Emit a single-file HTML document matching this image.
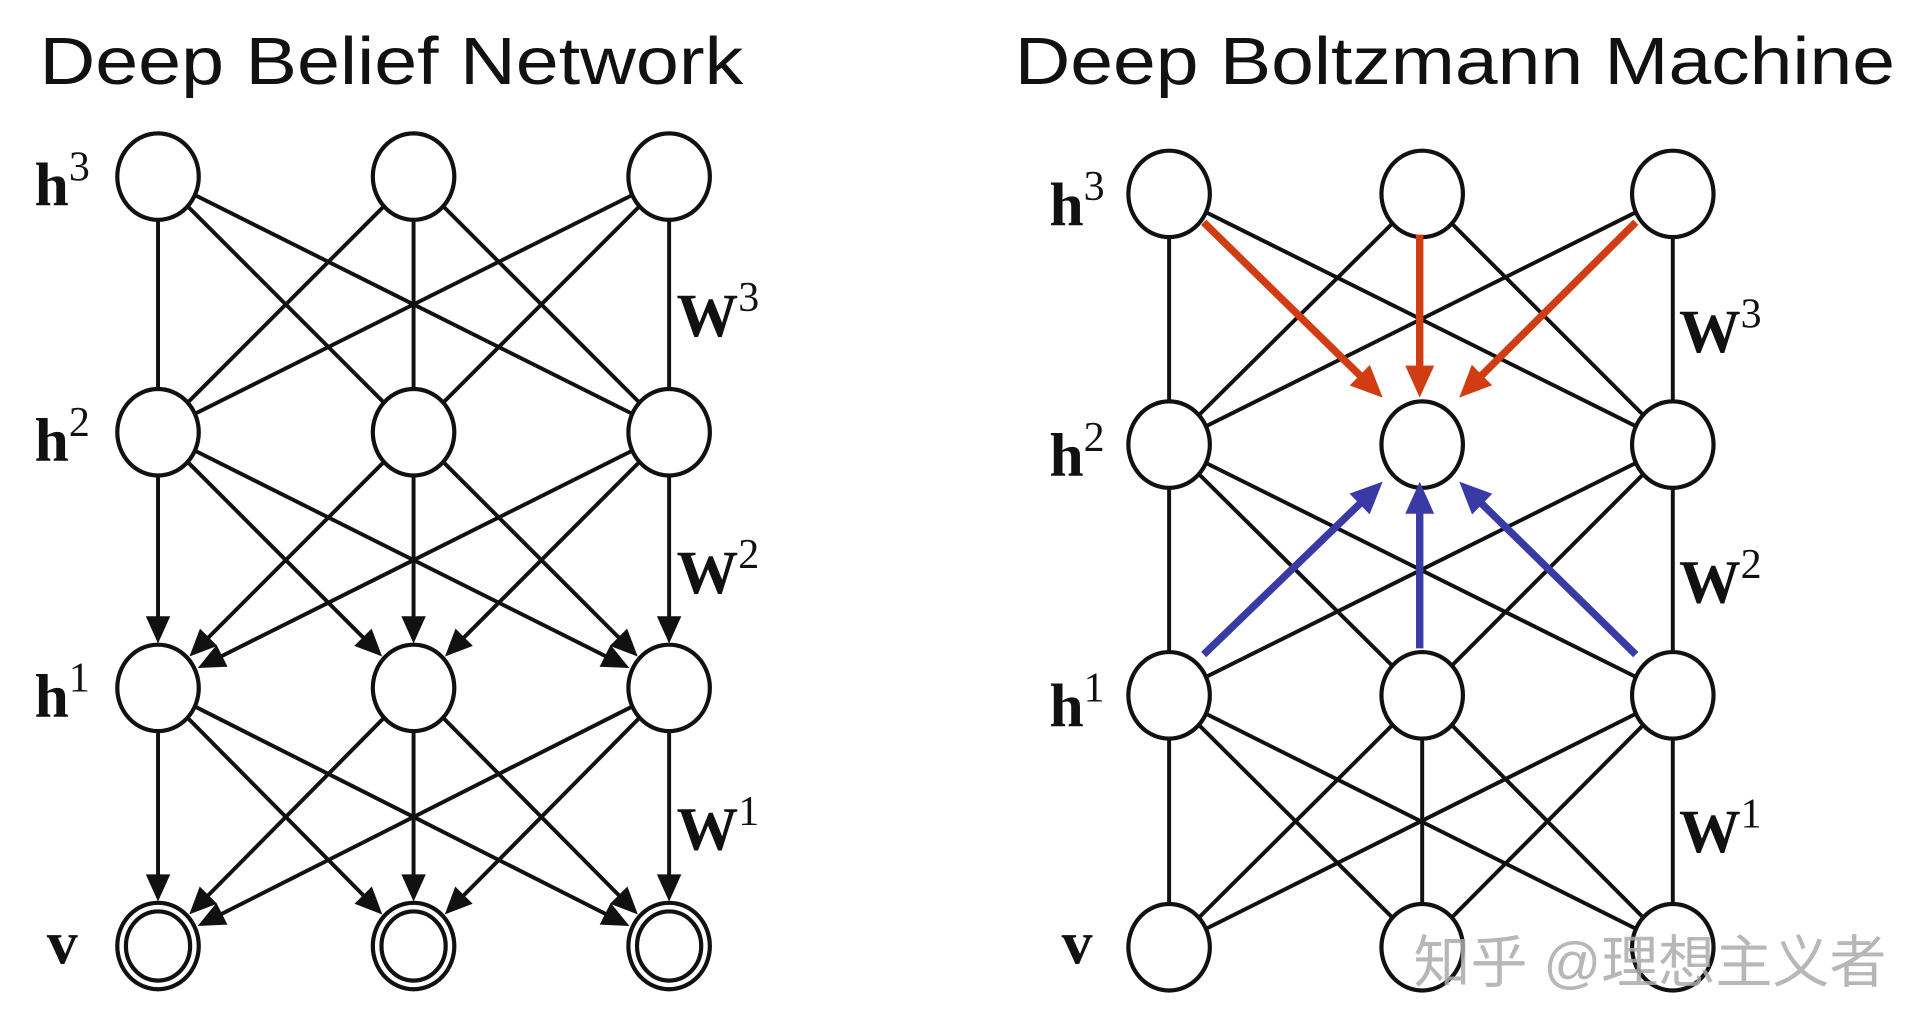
<!DOCTYPE html>
<html><head><meta charset="utf-8"><style>
html,body{margin:0;padding:0;background:#fff;width:1916px;height:1030px;overflow:hidden}
svg{display:block}
text{font-family:"Liberation Serif",serif;fill:#111}
</style></head><body>
<svg id="s" width="1916" height="1030" viewBox="0 0 1552 834" preserveAspectRatio="none" xmlns="http://www.w3.org/2000/svg">
<text x="32" y="68" textLength="570" lengthAdjust="spacingAndGlyphs" style="font-family:'Liberation Sans',sans-serif;font-size:54px">Deep Belief Network</text>
<text x="822" y="68" textLength="713" lengthAdjust="spacingAndGlyphs" style="font-family:'Liberation Sans',sans-serif;font-size:54px">Deep Boltzmann Machine</text>
<g id="g"></g>
<text x="1145" y="795" textLength="383" lengthAdjust="spacingAndGlyphs" style="font-family:'Liberation Sans','Noto Sans CJK SC',sans-serif;font-size:46px;fill:#aaa;fill-opacity:0.85">知乎 @理想主义者</text>
</svg>
<script>
var g=document.getElementById('g'),h='';
var R=34,RX=33,RY=35;
function L(x1,y1,x2,y2,c,w,arrow,shrinkEnd,shrinkStart){
 var dx=x2-x1,dy=y2-y1,d=Math.hypot(dx,dy),ux=dx/d,uy=dy/d;
 x1+=ux*shrinkStart;y1+=uy*shrinkStart;x2-=ux*shrinkEnd;y2-=uy*shrinkEnd;
 if(arrow){
  var al=arrow,aw=arrow*0.45;
  var bx=x2-ux*al,by=y2-uy*al;
  h+='<line x1="'+x1+'" y1="'+y1+'" x2="'+(bx+ux*2)+'" y2="'+(by+uy*2)+'" stroke="'+c+'" stroke-width="'+w+'"/>';
  h+='<polygon points="'+x2+','+y2+' '+(bx-uy*aw)+','+(by+ux*aw)+' '+(bx+uy*aw)+','+(by-ux*aw)+'" fill="'+c+'"/>';
 } else h+='<line x1="'+x1+'" y1="'+y1+'" x2="'+x2+'" y2="'+y2+'" stroke="'+c+'" stroke-width="'+w+'"/>';
}
var SW=3.2;
// DBN
var X=[128,335,542],Y=[143,350,557,766];
for(var l=0;l<3;l++)for(var i=0;i<3;i++)for(var j=0;j<3;j++){
 if(l==0)L(X[i],Y[0],X[j],Y[1],'#111',SW,0,0,0);
 else L(X[i],Y[l],X[j],Y[l+1],'#111',SW,22,R+2,R);
}
X.forEach(function(x){Y.forEach(function(y,k){
 h+='<ellipse cx="'+x+'" cy="'+y+'" rx="'+RX+'" ry="'+RY+'" fill="#fff" stroke="#111" stroke-width="3.4"/>';
 if(k==3)h+='<ellipse cx="'+x+'" cy="'+y+'" rx="'+(RX-7)+'" ry="'+(RY-7)+'" fill="#fff" stroke="#111" stroke-width="3.4"/>';
});});
// DBM
var P=[947,1152,1355],Q=[157,360,563,767];
for(var l=0;l<3;l++)for(var i=0;i<3;i++)for(var j=0;j<3;j++){
 if(l==0 && j==1) continue;
 if(l==1 && i==1) continue;
 L(P[i],Q[l],P[j],Q[l+1],'#111',SW,0,0,0);
}
P.forEach(function(x){Q.forEach(function(y){
 h+='<ellipse cx="'+x+'" cy="'+y+'" rx="'+RX+'" ry="'+RY+'" fill="#fff" stroke="#111" stroke-width="3.4"/>';
});});
var red='#d23c12',blue='#3a3aa6';
L(975,180,1120,322,red,6,26,0,0);
L(1150,190,1150,322,red,6,26,0,0);
L(1325,180,1182,322,red,6,26,0,0);
L(975,530,1120,390,blue,6,26,0,0);
L(1150,525,1150,390,blue,6,26,0,0);
L(1325,530,1182,390,blue,6,26,0,0);
// labels
function lab(x,y,b,s){h+='<text x="'+x+'" y="'+y+'" style="font-size:50px;font-weight:bold">'+b+'<tspan dy="-20" style="font-size:34px;font-weight:normal">'+s+'</tspan></text>';}
lab(28,166,'h','3');lab(28,373,'h','2');lab(28,580,'h','1');
h+='<text x="38" y="780" style="font-size:50px;font-weight:bold">v</text>';
lab(548,272,'W','3');lab(548,480,'W','2');lab(548,688,'W','1');
lab(850,182,'h','3');lab(850,385,'h','2');lab(850,588,'h','1');
h+='<text x="860" y="780" style="font-size:50px;font-weight:bold">v</text>';
lab(1360,285,'W','3');lab(1360,488,'W','2');lab(1360,690,'W','1');
g.innerHTML=h;
</script>
</body></html>
